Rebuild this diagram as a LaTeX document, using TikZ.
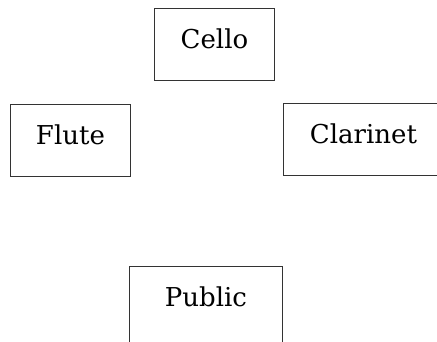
\documentclass[tikz,border=0pt]{standalone}
\usepackage{fontspec}
\setmainfont{DejaVu Serif}
\begin{document}
\begin{tikzpicture}[x=1pt,y=-1pt,
  box/.style={draw=black!80, line width=0.9pt, inner sep=0pt,
    font=\fontsize{26}{31}\selectfont, text height=40pt, text depth=32pt,
    anchor=north west}]
\useasboundingbox (0,0) rectangle (437,342);
\clip (0,0) rectangle (437,342);
\node[box, minimum width=120pt] (cello) at (154,8) {Cello};
\node[box, minimum width=120pt] (flute) at (10,104) {Flute};
\node[box, minimum width=160pt] (clarinet) at (283,103) {Clarinet};
\node[box, minimum width=153pt, text depth=60pt] (public) at (129,266) {Public};
\end{tikzpicture}
\end{document}
